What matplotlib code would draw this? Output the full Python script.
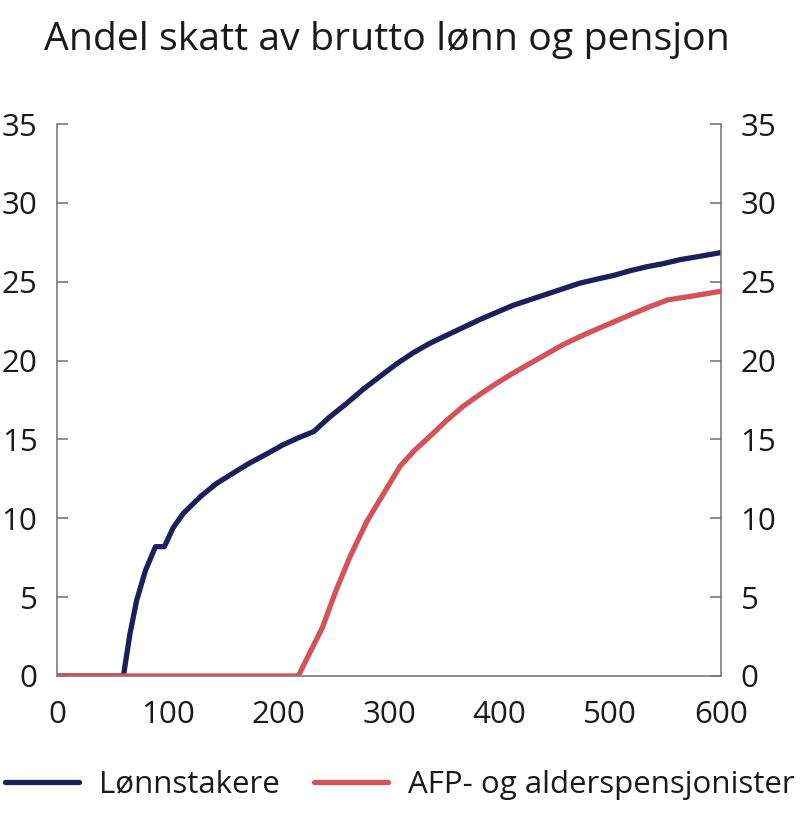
import matplotlib
matplotlib.use("Agg")
import matplotlib.pyplot as plt

plt.rcParams['font.family'] = ['Open Sans', 'DejaVu Sans']

title = "Andel skatt av brutto lønn og pensjon"
series_names = ["Lønnstakere", "AFP- og alderspensjonister"]

x_lonn = [0, 60, 66, 72, 80, 89, 97, 105, 114, 130, 144, 160, 174, 190, 204, 218, 232,
          246, 262, 277, 292, 307, 322, 337, 352, 367, 382, 397, 412, 427, 442, 457,
          472, 487, 503, 518, 533, 548, 563, 580, 600]
y_lonn = [0, 0, 2.7, 4.8, 6.7, 8.2, 8.2, 9.4, 10.3, 11.4, 12.2, 12.9, 13.5, 14.1, 14.65,
          15.1, 15.5, 16.4, 17.3, 18.2, 19.0, 19.8, 20.5, 21.1, 21.6, 22.1, 22.6, 23.05,
          23.5, 23.85, 24.2, 24.55, 24.9, 25.15, 25.4, 25.7, 25.95, 26.15, 26.4, 26.6, 26.85]

x_pens = [0, 218, 240, 252, 265, 280, 298, 310, 323, 337, 352, 367, 382, 397, 412, 427,
          442, 457, 472, 488, 503, 518, 535, 552, 575, 600]
y_pens = [0, 0, 3.1, 5.4, 7.6, 9.8, 11.9, 13.3, 14.3, 15.2, 16.2, 17.1, 17.85, 18.55,
          19.2, 19.8, 20.4, 21.0, 21.5, 22.0, 22.45, 22.9, 23.4, 23.85, 24.1, 24.4]

x_ticks = [0, 100, 200, 300, 400, 500, 600]
y_ticks = [0, 5, 10, 15, 20, 25, 30, 35]

navy = "#1d1f5b"
red = "#d4535b"
grey = "#7a7a7a"

fig = plt.figure(figsize=(8.0, 8.17), dpi=100)
ax = fig.add_axes([0.07125, 0.1726, 0.83, 0.6756])

ax.plot(x_lonn, y_lonn, color=navy, lw=3.8, solid_capstyle='round', solid_joinstyle='round',
        label=series_names[0], zorder=2)
ax.plot(x_pens, y_pens, color=red, lw=3.8, solid_capstyle='round', solid_joinstyle='round',
        label=series_names[1], zorder=3)

ax.set_xlim(0, 600)
ax.set_ylim(0, 35)
ax.set_xticks(x_ticks)
ax.set_yticks(y_ticks)

ax.spines['top'].set_visible(False)
for s in ['left', 'right', 'bottom']:
    ax.spines[s].set_color(grey)
    ax.spines[s].set_linewidth(1.2)

ax.tick_params(axis='y', which='both', direction='in', length=8, width=1.2, color=grey,
               labelsize=22.5, pad=14, left=True, right=True, labelleft=True, labelright=True,
               labelcolor='#1a1a1a')
ax.tick_params(axis='x', which='both', direction='in', length=0, labelsize=22.5, pad=17,
               labelcolor='#1a1a1a')

fig.text(0.484, 0.9394, title, ha='center', va='baseline', fontsize=28.3, color='#1a1a1a')

fig.legend(loc='lower center', bbox_to_anchor=(0.5, 0.006), ncol=2, frameon=False,
           fontsize=22.5, handlelength=2.35, handletextpad=0.65, columnspacing=1.1,
           borderaxespad=0, labelcolor='#1a1a1a')

fig.savefig("out.png", dpi=100)
